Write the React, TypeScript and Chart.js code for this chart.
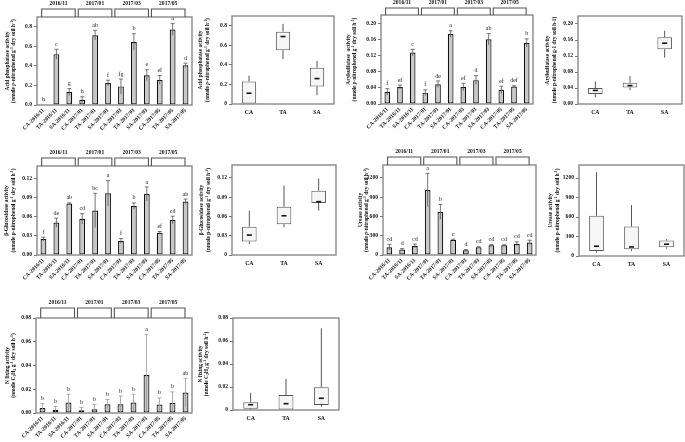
import React, { useEffect, useRef } from 'react';
import { Chart, registerables } from 'chart.js';
Chart.register(...registerables);

const FONT = "'Liberation Serif', 'Times New Roman', serif";

// ---------- categories ----------
const barCategories = ['CA-2016/11', 'TA-2016/11', 'SA-2016/11', 'CA-2017/01', 'TA-2017/01', 'SA-2017/01', 'CA-2017/03', 'TA-2017/03', 'SA-2017/03', 'CA-2017/05', 'TA-2017/05', 'SA-2017/05'];
const groupLabels = ['2016/11', '2017/01', '2017/03', '2017/05'];
const boxCategories = ['CA', 'TA', 'SA'];

// ---------- Acid phosphatase ----------
const acidMeans = [0.004, 0.52, 0.132, 0.054, 0.714, 0.224, 0.19, 0.644, 0.305, 0.256, 0.772, 0.406];
const acidErrors = [0, 0.05, 0.035, 0.03, 0.05, 0.03, 0.075, 0.085, 0.055, 0.045, 0.06, 0.022];
const acidLetters = ['h', 'c', 'g', 'h', 'ab', 'f', 'fg', 'b', 'e', 'ef', 'a', 'd'];
const acidTicks = [0, 0.2, 0.4, 0.6, 0.8];
const acidBarTickLabels = ['0.0', '0.2', '0.4', '0.6', '0.8'];
const acidBoxTickLabels = ['0', '0.2', '0.4', '0.6', '0.8'];
const acidBoxMin = [0, 0.46, 0.09];
const acidBoxQ1 = [0, 0.55, 0.18];
const acidBoxMedian = [0.11, 0.69, 0.26];
const acidBoxQ3 = [0.23, 0.74, 0.37];
const acidBoxMax = [0.29, 0.82, 0.44];

// ---------- Arylsulfatase ----------
const arylMeans = [0.030, 0.042, 0.127, 0.028, 0.049, 0.173, 0.042, 0.059, 0.160, 0.035, 0.043, 0.151];
const arylErrors = [0.008, 0.005, 0.008, 0.007, 0.008, 0.008, 0.009, 0.011, 0.014, 0.009, 0.002, 0.010];
const arylLetters = ['f', 'ef', 'c', 'f', 'de', 'a', 'ef', 'd', 'ab', 'ef', 'def', 'b'];
const arylTicks = [0, 0.04, 0.08, 0.12, 0.16, 0.2];
const arylTickLabels = ['0.00', '0.04', '0.08', '0.12', '0.16', '0.20'];
const arylBoxMin = [0.017, 0.035, 0.116];
const arylBoxQ1 = [0.025, 0.041, 0.137];
const arylBoxMedian = [0.034, 0.046, 0.152];
const arylBoxQ3 = [0.040, 0.053, 0.167];
const arylBoxMax = [0.056, 0.070, 0.183];

// ---------- beta-Glucosidase ----------
const glucMeans = [0.025, 0.051, 0.081, 0.057, 0.070, 0.097, 0.022, 0.077, 0.096, 0.035, 0.055, 0.084];
const glucErrors = [0.003, 0.007, 0.001, 0.008, 0.027, 0.020, 0.004, 0.005, 0.011, 0.002, 0.006, 0.004];
const glucLetters = ['f', 'de', 'ab', 'cd', 'bc', 'a', 'f', 'b', 'a', 'ef', 'cd', 'ab'];
const glucTicks = [0, 0.03, 0.06, 0.09, 0.12];
const glucBarTickLabels = ['0.00', '0.03', '0.06', '0.09', '0.12'];
const glucBoxTickLabels = ['0', '0.03', '0.06', '0.09', '0.12'];
const glucBoxMin = [0.017, 0.043, 0.069];
const glucBoxQ1 = [0.021, 0.048, 0.081];
const glucBoxMedian = [0.031, 0.061, 0.083];
const glucBoxQ3 = [0.044, 0.075, 0.100];
const glucBoxMax = [0.069, 0.108, 0.119];

// ---------- Urease ----------
const ureaMeans = [120, 85, 140, 1010, 670, 235, 75, 120, 150, 150, 175, 195];
const ureaErrors = [45, 15, 30, 260, 115, 10, 10, 8, 12, 10, 30, 35];
const ureaLetters = ['cd', 'd', 'cd', 'a', 'b', 'c', 'd', 'cd', 'cd', 'cd', 'cd', 'cd'];
const ureaTicks = [0, 300, 600, 900, 1200];
const ureaTickLabels = ['0', '300', '600', '900', '1200'];
const ureaBoxMin = [52, 77, 114];
const ureaBoxQ1 = [77, 103, 134];
const ureaBoxMedian = [150, 139, 181];
const ureaBoxQ3 = [618, 454, 238];
const ureaBoxMax = [1289, 784, 258];

// ---------- N fixing ----------
const nfixMeans = [0.0042, 0.0025, 0.0088, 0.0023, 0.0032, 0.0074, 0.0073, 0.0088, 0.032, 0.0071, 0.0085, 0.0173];
const nfixErrors = [0.0038, 0.003, 0.007, 0.0025, 0.004, 0.004, 0.007, 0.007, 0.034, 0.0056, 0.0093, 0.012];
const nfixLetters = ['b', 'b', 'b', 'b', 'b', 'b', 'b', 'b', 'a', 'b', 'b', 'ab'];
const nfixTicks = [0, 0.02, 0.04, 0.06, 0.08];
const nfixBarTickLabels = ['0.00', '0.02', '0.04', '0.06', '0.08'];
const nfixBoxTickLabels = ['0', '0.02', '0.04', '0.06', '0.08'];
const nfixBoxMin = [0, 0, 0.003];
const nfixBoxQ1 = [0.001, 0, 0.0044];
const nfixBoxMedian = [0.0046, 0.0055, 0.0102];
const nfixBoxQ3 = [0.0067, 0.013, 0.0198];
const nfixBoxMax = [0.015, 0.027, 0.071];

const UNIT_PNP = '(nmole *p*-nitrophenol g^{-1} dry soil h^{-1})';

type Rect = { left: number; top: number; width: number; height: number };
type Plot = { l: number; t: number; r: number; b: number };
type Panel = {
  kind: 'bar' | 'box';
  rect: Rect;
  plot: Plot;
  yMax: number;
  yTicks: number[];
  yTickLabels: string[];
  title: string[];
  titleX: number[];
  means?: number[];
  errors?: number[];
  letters?: string[];
  errColor?: string;
  bracketH?: number;
  min?: number[];
  q1?: number[];
  med?: number[];
  q3?: number[];
  max?: number[];
};

const panels: Panel[] = [
  {
    kind: 'bar', rect: { left: 0, top: 0, width: 200, height: 148 }, plot: { l: 37, t: 17, r: 192, b: 105 },
    yMax: 0.9, yTicks: acidTicks, yTickLabels: acidBarTickLabels,
    title: ['Acid phosphatase activity', UNIT_PNP], titleX: [8, 14],
    means: acidMeans, errors: acidErrors, letters: acidLetters, bracketH: 8,
  },
  {
    kind: 'box', rect: { left: 195, top: 0, width: 145, height: 125 }, plot: { l: 232, t: 16, r: 334, b: 104 },
    yMax: 0.9, yTicks: acidTicks, yTickLabels: acidBoxTickLabels,
    title: ['Acid phosphatase activity', UNIT_PNP], titleX: [201, 208],
    min: acidBoxMin, q1: acidBoxQ1, med: acidBoxMedian, q3: acidBoxQ3, max: acidBoxMax,
  },
  {
    kind: 'bar', rect: { left: 340, top: 0, width: 200, height: 148 }, plot: { l: 381, t: 15, r: 533, b: 104 },
    yMax: 0.22, yTicks: arylTicks, yTickLabels: arylTickLabels,
    title: ['Arylsulfatase  activity', UNIT_PNP], titleX: [349, 355],
    means: arylMeans, errors: arylErrors, letters: arylLetters, bracketH: 7,
  },
  {
    kind: 'box', rect: { left: 540, top: 0, width: 145, height: 125 }, plot: { l: 578, t: 16, r: 682, b: 104 },
    yMax: 0.22, yTicks: arylTicks, yTickLabels: arylTickLabels,
    title: ['Arylsulfatase activity', '(nmole p-nitrophenol g-1 dry soil h-1)'], titleX: [548, 555],
    min: arylBoxMin, q1: arylBoxQ1, med: arylBoxMedian, q3: arylBoxQ3, max: arylBoxMax,
  },
  {
    kind: 'bar', rect: { left: 0, top: 145, width: 200, height: 148 }, plot: { l: 37, t: 166, r: 192, b: 255 },
    yMax: 0.14, yTicks: glucTicks, yTickLabels: glucBarTickLabels,
    title: ['β-Glucosidase activity', '(nmole p-nitrophenol g^{-1} dry soil h^{-1})'], titleX: [7, 13.5],
    means: glucMeans, errors: glucErrors, letters: glucLetters, bracketH: 8,
  },
  {
    kind: 'box', rect: { left: 195, top: 148, width: 145, height: 125 }, plot: { l: 232, t: 165, r: 336, b: 255 },
    yMax: 0.14, yTicks: glucTicks, yTickLabels: glucBoxTickLabels,
    title: ['β-Glucosidase activity', '(nmole p-nitrophenol g^{-1} dry soil h^{-1})'], titleX: [202, 209],
    min: glucBoxMin, q1: glucBoxQ1, med: glucBoxMedian, q3: glucBoxQ3, max: glucBoxMax,
  },
  {
    kind: 'bar', rect: { left: 340, top: 145, width: 200, height: 148 }, plot: { l: 383, t: 165, r: 536, b: 255 },
    yMax: 1400, yTicks: ureaTicks, yTickLabels: ureaTickLabels,
    title: ['Urease activity', UNIT_PNP], titleX: [361, 367],
    means: ureaMeans, errors: ureaErrors, letters: ureaLetters, bracketH: 8,
  },
  {
    kind: 'box', rect: { left: 540, top: 148, width: 145, height: 125 }, plot: { l: 579, t: 165, r: 684, b: 256 },
    yMax: 1400, yTicks: ureaTicks, yTickLabels: ureaTickLabels,
    title: ['Urease activity', '(nmole p-nitrophenol g^{-1} dry soil h^{-1})'], titleX: [551, 558],
    min: ureaBoxMin, q1: ureaBoxQ1, med: ureaBoxMedian, q3: ureaBoxQ3, max: ureaBoxMax,
  },
  {
    kind: 'bar', rect: { left: 0, top: 292, width: 200, height: 150 }, plot: { l: 36, t: 318, r: 192, b: 413 },
    yMax: 0.08, yTicks: nfixTicks, yTickLabels: nfixBarTickLabels,
    title: ['N fixing activity', '(nmole C_{2}H_{4} g^{-1} dry soil h^{-1})'], titleX: [7.5, 13.5],
    means: nfixMeans, errors: nfixErrors, letters: nfixLetters, bracketH: 10, errColor: '#999',
  },
  {
    kind: 'box', rect: { left: 195, top: 292, width: 150, height: 140 }, plot: { l: 233, t: 318, r: 339, b: 410 },
    yMax: 0.08, yTicks: nfixTicks, yTickLabels: nfixBoxTickLabels,
    title: ['N fixing activity', '(nmole C_{2}H_{4} g^{-1} dry soil h^{-1})'], titleX: [201, 207],
    min: nfixBoxMin, q1: nfixBoxQ1, med: nfixBoxMedian, q3: nfixBoxQ3, max: nfixBoxMax,
  },
];

// rich text: ^{sup}, _{sub}, *italic*
function drawRich(ctx: CanvasRenderingContext2D, text: string, size: number) {
  const parts = text.split(/(\^\{[^}]*\}|_\{[^}]*\}|\*[^*]*\*)/).filter((s) => s.length);
  const segs = parts.map((p) => {
    if (p.startsWith('^{')) return { t: p.slice(2, -1), kind: 'sup' };
    if (p.startsWith('_{')) return { t: p.slice(2, -1), kind: 'sub' };
    if (p.startsWith('*')) return { t: p.slice(1, -1), kind: 'it' };
    return { t: p, kind: 'n' };
  });
  const fontFor = (k: string) => {
    const s = k === 'sup' || k === 'sub' ? size * 0.72 : size;
    return `${k === 'it' ? 'italic ' : ''}bold ${s}px ${FONT}`;
  };
  let total = 0;
  const widths = segs.map((s) => {
    ctx.font = fontFor(s.kind);
    const w = ctx.measureText(s.t).width;
    total += w;
    return w;
  });
  let x = -total / 2;
  ctx.textAlign = 'left';
  ctx.textBaseline = 'middle';
  segs.forEach((s, i) => {
    ctx.font = fontFor(s.kind);
    const dy = s.kind === 'sup' ? -size * 0.35 : s.kind === 'sub' ? size * 0.25 : 0;
    ctx.fillText(s.t, x, dy);
    x += widths[i];
  });
}

function PanelChart({ p }: { p: Panel }) {
  const ref = useRef<HTMLCanvasElement>(null);
  useEffect(() => {
    if (!ref.current) return;
    const isBar = p.kind === 'bar';
    const padTop = p.plot.t - p.rect.top;
    const padRight = p.rect.left + p.rect.width - p.plot.r;
    const yW = p.plot.l - p.rect.left;
    const xH = p.rect.top + p.rect.height - p.plot.b;

    const dataset: any = isBar
      ? {
          data: p.means,
          backgroundColor: '#c8c8c8',
          borderColor: '#111',
          borderWidth: 1.2,
          borderSkipped: false,
          barPercentage: 0.45,
          categoryPercentage: 1,
        }
      : {
          data: (p.q1 as number[]).map((v, i) => [v, (p.q3 as number[])[i]]),
          backgroundColor: '#f6f6f6',
          borderColor: '#555',
          borderWidth: 1,
          borderSkipped: false,
          barPercentage: 0.42,
          categoryPercentage: 1,
        };

    const overlay = {
      id: 'overlay',
      afterDatasetsDraw(chart: any) {
        const ctx = chart.ctx as CanvasRenderingContext2D;
        const xs = chart.scales.x;
        const ys = chart.scales.y;
        ctx.save();
        if (isBar) {
          const means = p.means as number[];
          const errs = p.errors as number[];
          means.forEach((m, i) => {
            const x = xs.getPixelForValue(i);
            const e = errs[i];
            const yTop = ys.getPixelForValue(m + e);
            if (e > 0) {
              const yBot = ys.getPixelForValue(Math.max(0, m - e));
              ctx.strokeStyle = p.errColor || '#555';
              ctx.lineWidth = 0.8;
              ctx.beginPath();
              ctx.moveTo(x, yBot);
              ctx.lineTo(x, yTop);
              ctx.moveTo(x - 2, yTop);
              ctx.lineTo(x + 2, yTop);
              ctx.stroke();
            }
            ctx.fillStyle = '#222';
            ctx.font = `6px ${FONT}`;
            ctx.textAlign = 'center';
            ctx.textBaseline = 'bottom';
            ctx.fillText((p.letters as string[])[i], x, yTop - 2);
          });
        } else {
          const mins = p.min as number[];
          const maxs = p.max as number[];
          const q1 = p.q1 as number[];
          const q3 = p.q3 as number[];
          const med = p.med as number[];
          mins.forEach((mn, i) => {
            const x = xs.getPixelForValue(i);
            ctx.strokeStyle = '#555';
            ctx.lineWidth = 1;
            ctx.beginPath();
            ctx.moveTo(x, ys.getPixelForValue(q3[i]));
            ctx.lineTo(x, ys.getPixelForValue(maxs[i]));
            ctx.moveTo(x, ys.getPixelForValue(q1[i]));
            ctx.lineTo(x, ys.getPixelForValue(mn));
            ctx.stroke();
            ctx.strokeStyle = '#111';
            ctx.lineWidth = 1.6;
            ctx.beginPath();
            const ym = ys.getPixelForValue(med[i]);
            ctx.moveTo(x - 2.5, ym);
            ctx.lineTo(x + 2.5, ym);
            ctx.stroke();
          });
        }
        ctx.restore();
      },
      afterDraw(chart: any) {
        const ctx = chart.ctx as CanvasRenderingContext2D;
        const a = chart.chartArea;
        ctx.save();
        // frame
        ctx.strokeStyle = '#808080';
        ctx.lineWidth = 1.3;
        ctx.strokeRect(a.left, a.top, a.right - a.left, a.bottom - a.top);
        // brackets and group labels
        if (isBar) {
          const W = a.right - a.left;
          const start = a.left + 0.03 * W;
          const end = a.right - 0.045 * W;
          const gap = 3;
          const bw = (end - start - 3 * gap) / 4;
          const h = p.bracketH || 8;
          ctx.strokeStyle = '#555';
          ctx.lineWidth = 1.1;
          groupLabels.forEach((g, gi) => {
            const x0 = start + gi * (bw + gap);
            const x1 = x0 + bw;
            const yT = a.top - h;
            ctx.beginPath();
            ctx.moveTo(x0, a.top);
            ctx.lineTo(x0, yT);
            ctx.lineTo(x1, yT);
            ctx.lineTo(x1, a.top);
            ctx.stroke();
            ctx.fillStyle = '#111';
            ctx.font = `bold 5.6px ${FONT}`;
            ctx.textAlign = 'center';
            ctx.textBaseline = 'middle';
            ctx.fillText(g, (x0 + x1) / 2, yT - 5);
          });
        }
        // y titles
        const cy = (p.plot.t + p.plot.b) / 2 - p.rect.top;
        ctx.fillStyle = '#111';
        p.title.forEach((line, li) => {
          ctx.save();
          ctx.translate(p.titleX[li] - p.rect.left, cy);
          ctx.rotate(-Math.PI / 2);
          drawRich(ctx, line, 5.4);
          ctx.restore();
        });
        ctx.restore();
      },
    };

    const chart = new Chart(ref.current, {
      type: 'bar',
      data: { labels: isBar ? barCategories : boxCategories, datasets: [dataset] },
      options: {
        animation: false,
        responsive: false,
        maintainAspectRatio: false,
        layout: { padding: { top: padTop, right: padRight, left: 0, bottom: 0 } },
        plugins: { legend: { display: false }, tooltip: { enabled: false }, title: { display: false } },
        scales: {
          x: {
            type: 'category',
            grid: { display: false, drawTicks: false, tickLength: 0 },
            border: { display: false },
            ticks: {
              autoSkip: false,
              minRotation: isBar ? 45 : 0,
              maxRotation: isBar ? 45 : 0,
              padding: isBar ? 2 : 5,
              color: '#111',
              font: { family: FONT, size: isBar ? 5.6 : 5.8, weight: 'bold' },
            },
            afterFit: (s: any) => {
              s.height = xH;
            },
          } as any,
          y: {
            type: 'linear',
            min: 0,
            max: p.yMax,
            grid: { display: true, drawOnChartArea: false, drawTicks: true, tickLength: 3, color: '#777' },
            border: { display: false },
            ticks: {
              padding: 2,
              color: '#111',
              font: { family: FONT, size: 5.6, weight: 'bold' },
              callback: (v: any) => {
                const idx = p.yTicks.indexOf(Number(v));
                return idx >= 0 ? p.yTickLabels[idx] : '';
              },
            },
            afterBuildTicks: (s: any) => {
              s.ticks = p.yTicks.map((v) => ({ value: v }));
            },
            afterFit: (s: any) => {
              s.width = yW;
            },
          } as any,
        },
      },
      plugins: [overlay as any],
    });
    return () => chart.destroy();
  }, [p]);
  return (
    <div style={{ position: 'absolute', left: p.rect.left, top: p.rect.top, width: p.rect.width, height: p.rect.height }}>
      <canvas ref={ref} width={p.rect.width} height={p.rect.height} style={{ display: 'block' }} />
    </div>
  );
}

export default function App() {
  return (
    <div style={{ position: 'absolute', left: 0, top: 0, width: 685, height: 442, background: '#fff', overflow: 'hidden' }}>
      {panels.map((p, i) => (
        <PanelChart key={i} p={p} />
      ))}
    </div>
  );
}
